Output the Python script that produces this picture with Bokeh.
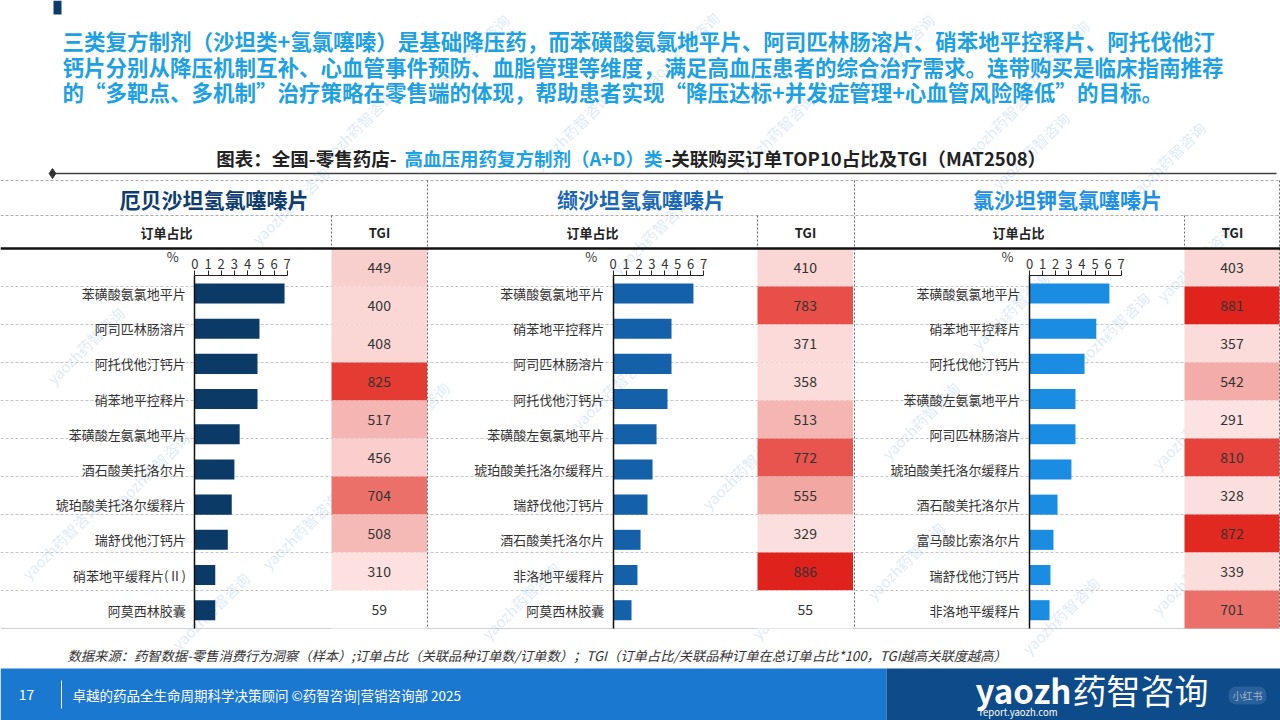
from bokeh.plotting import figure
from bokeh.models import Range1d, LinearAxis, FixedTicker, LinearColorMapper, ColumnDataSource
from bokeh.core.properties import value
from bokeh.transform import transform
from bokeh.embed import file_html
from bokeh.resources import INLINE

# ---------------- data ----------------
panel_titles = ["厄贝沙坦氢氯噻嗪片", "缬沙坦氢氯噻嗪片", "氯沙坦钾氢氯噻嗪片"]

p1_names = ["苯磺酸氨氯地平片", "阿司匹林肠溶片", "阿托伐他汀钙片", "硝苯地平控释片", "苯磺酸左氨氯地平片",
            "酒石酸美托洛尔片", "琥珀酸美托洛尔缓释片", "瑞舒伐他汀钙片", "硝苯地平缓释片(Ⅱ)", "阿莫西林胶囊"]
p1_share = [6.8, 4.9, 4.75, 4.75, 3.4, 3.0, 2.8, 2.5, 1.55, 1.55]
p1_tgi = [449, 400, 408, 825, 517, 456, 704, 508, 310, 59]

p2_names = ["苯磺酸氨氯地平片", "硝苯地平控释片", "阿司匹林肠溶片", "阿托伐他汀钙片", "苯磺酸左氨氯地平片",
            "琥珀酸美托洛尔缓释片", "瑞舒伐他汀钙片", "酒石酸美托洛尔片", "非洛地平缓释片", "阿莫西林胶囊"]
p2_share = [6.22, 4.52, 4.52, 4.21, 3.36, 3.05, 2.66, 2.12, 1.88, 1.42]
p2_tgi = [410, 783, 371, 358, 513, 772, 555, 329, 886, 55]

p3_names = ["苯磺酸氨氯地平片", "硝苯地平控释片", "阿托伐他汀钙片", "苯磺酸左氨氯地平片", "阿司匹林肠溶片",
            "琥珀酸美托洛尔缓释片", "酒石酸美托洛尔片", "富马酸比索洛尔片", "瑞舒伐他汀钙片", "非洛地平缓释片"]
p3_share = [6.1, 5.1, 4.2, 3.51, 3.51, 3.2, 2.14, 1.83, 1.6, 1.53]
p3_tgi = [403, 881, 357, 542, 291, 810, 328, 872, 339, 701]

axis_ticks = [0, 1, 2, 3, 4, 5, 6, 7]

para_lines = [
    "三类复方制剂（沙坦类+氢氯噻嗪）是基础降压药，而苯磺酸氨氯地平片、阿司匹林肠溶片、硝苯地平控释片、阿托伐他汀",
    "钙片分别从降压机制互补、心血管事件预防、血脂管理等维度，满足高血压患者的综合治疗需求。连带购买是临床指南推荐",
    "的“多靶点、多机制”治疗策略在零售端的体现，帮助患者实现“降压达标+并发症管理+心血管风险降低”的目标。",
]
title_a = "图表：全国-零售药店-"
title_b = "高血压用药复方制剂（A+D）类"
title_c = "-关联购买订单TOP10占比及TGI（MAT2508）"
source_note = "数据来源：药智数据-零售消费行为洞察（样本）;订单占比（关联品种订单数/订单数）；TGI（订单占比/关联品种订单在总订单占比*100，TGI越高关联度越高）"
footer_text = "卓越的药品全生命周期科学决策顾问 ©药智咨询|营销咨询部 2025"
page_no = "17"

panels = [
    (p1_names, p1_share, p1_tgi),
    (p2_names, p2_share, p2_tgi),
    (p3_names, p3_share, p3_tgi),
]

# ---------------- layout / style ----------------
W, H = 1280, 720
FONT = "Noto Sans CJK SC"
F = value(FONT)
PANEL_X1 = [427, 854, 1279]
ZERO_PX = [194.3, 612.7, 1029.0]
SEVEN_PX = [286.7, 703.0, 1120.7]
TGI_X0 = [331, 757, 1184]
TGI_X1 = [426.5, 852.5, 1279]
TITLE_CX = [213.5, 640.5, 1067]
HDR_CX = [166, 592, 1018]
TGI_CX = [379, 805, 1232]
BAR_COLORS = ["#0B3A67", "#1561A9", "#1A8CE1"]
TITLE_COLORS = ["#0E3C6E", "#1A67B5", "#1E91E6"]

BAR_TOP, BAR_STEP = 293.0, 35.19
ROW_TOP, ROW_H = 248.0, 38.0
AXIS_Y = 275.0
DATA_BOTTOM = 628.0

p = figure(width=W, height=H, x_range=Range1d(0, W), y_range=Range1d(H, 0),
           output_backend="svg", toolbar_location=None,
           x_axis_location=None, y_axis_location=None, min_border=0,
           outline_line_color=None, background_fill_color="white", border_fill_color="white")
p.grid.visible = False

p.extra_y_ranges = {
    "by": Range1d(start=(H - BAR_TOP) / BAR_STEP, end=(0 - BAR_TOP) / BAR_STEP),
    "ty": Range1d(start=(H - (ROW_TOP + ROW_H / 2)) / ROW_H, end=(0 - (ROW_TOP + ROW_H / 2)) / ROW_H),
}
xr = {}
for k in range(3):
    s = (SEVEN_PX[k] - ZERO_PX[k]) / 7.0
    xr[f"bx{k}"] = Range1d(start=-ZERO_PX[k] / s, end=(W - ZERO_PX[k]) / s)
p.extra_x_ranges = xr

# colour scale for TGI cells
anchors = [(55, (255, 255, 255)), (291, (252, 227, 226)), (410, (250, 214, 212)), (456, (249, 206, 204)),
           (510, (245, 184, 181)), (550, (243, 170, 166)), (700, (236, 113, 107)), (780, (231, 81, 75)),
           (820, (229, 63, 54)), (886, (224, 34, 28))]
lo, hi = anchors[0][0], anchors[-1][0]
palette = []
for i in range(256):
    v = lo + (hi - lo) * i / 255.0
    for (a, ca), (b, cb) in zip(anchors[:-1], anchors[1:]):
        if a <= v <= b:
            t = (v - a) / (b - a)
            rgb = [round(ca[j] + (cb[j] - ca[j]) * t) for j in range(3)]
            palette.append("#%02x%02x%02x" % tuple(rgb))
            break
mapper = LinearColorMapper(palette=palette, low=lo, high=hi)

# ---------------- watermarks ----------------
wm_pos = [(470, 52), (680, 50), (895, 52), (1050, 58), (355, 128), (571, 130), (775, 132), (1000, 122),
          (1166, 160), (85, 345), (150, 470), (290, 205), (300, 530), (650, 235), (610, 390), (740, 470),
          (790, 600), (1030, 150), (1010, 310), (1110, 330), (1195, 262), (1190, 430), (920, 420),
          (905, 560), (520, 600), (210, 610), (1060, 615), (410, 420), (1190, 575), (60, 540)]
p.text(x=[q[0] for q in wm_pos], y=[q[1] for q in wm_pos], text=["yaozh药智咨询"] * len(wm_pos),
       angle=0.78, text_font=F, text_font_size="15px", text_color="#5B9BD5", text_alpha=0.22,
       text_align="center", text_baseline="middle")

# ---------------- header ----------------
p.quad(left=[53], right=[61], top=[0], bottom=[14], fill_color="#0D3A6B", line_color=None)
for i, line in enumerate(para_lines):
    p.text(x=[62], y=[40 + i * 25.5], text=[line], text_font=F, text_font_style="bold",
           text_font_size="21.5px", text_color="#1DA1E2", text_baseline="middle")

p.text(x=[396], y=[157], text=[title_a], text_font=F, text_font_style="bold", text_font_size="18.5px",
       text_color="#222222", text_align="right", text_baseline="middle")
p.text(x=[404], y=[157], text=[title_b], text_font=F, text_font_style="bold", text_font_size="18.5px",
       text_color="#1DA1E2", text_align="left", text_baseline="middle")
p.text(x=[664], y=[157], text=[title_c], text_font=F, text_font_style="bold", text_font_size="18.5px",
       text_color="#222222", text_align="left", text_baseline="middle")
p.segment(x0=[52], y0=[173], x1=[1276], y1=[173], line_color="#404040", line_width=1.5)
p.scatter(x=[52], y=[173], marker="diamond", size=10, color="#333333")

# ---------------- table grid ----------------
row_lines = [ROW_TOP + ROW_H * k for k in range(1, 10)]
p.segment(x0=[0] * len(row_lines), y0=row_lines, x1=[W] * len(row_lines), y1=row_lines,
          line_color="#C4C4C4", line_width=1, line_dash="3 2")
p.segment(x0=[0, 0], y0=[180, 215], x1=[W, W], y1=[180, 215],
          line_color="#ABABAB", line_width=1, line_dash="3 2")
p.segment(x0=[0], y0=[DATA_BOTTOM], x1=[W], y1=[DATA_BOTTOM], line_color="#D0D0D0", line_width=1)

# ---------------- panels ----------------
for k, (names, share, tgi) in enumerate(panels):
    xname = f"bx{k}"
    tsrc = ColumnDataSource(dict(idx=list(range(len(tgi))), tgi=tgi, txt=[str(v) for v in tgi]))
    cx = (TGI_X0[k] + TGI_X1[k]) / 2
    p.rect(x=cx, y="idx", width=TGI_X1[k] - TGI_X0[k], height=1, source=tsrc, y_range_name="ty",
           fill_color=transform("tgi", mapper), line_color=None)
    p.text(x=cx, y="idx", text="txt", source=tsrc, y_range_name="ty", text_font=F,
           text_font_size="14px", text_color="#333333", text_align="center", text_baseline="middle")

    bsrc = ColumnDataSource(dict(idx=list(range(len(share))), val=share))
    p.hbar(y="idx", left=0, right="val", height=0.57, source=bsrc, x_range_name=xname,
           y_range_name="by", fill_color=BAR_COLORS[k], line_color=None)

    ax = LinearAxis(x_range_name=xname, fixed_location=AXIS_Y, ticker=FixedTicker(ticks=axis_ticks),
                    bounds=(0, 7))
    ax.major_tick_out = 5
    ax.major_tick_in = 0
    ax.minor_tick_out = 0
    ax.minor_tick_in = 0
    ax.major_label_standoff = 2
    ax.axis_line_color = "#222222"
    ax.major_tick_line_color = "#222222"
    ax.major_label_text_font = FONT
    ax.major_label_text_font_size = "13px"
    ax.major_label_text_color = "#333333"
    p.add_layout(ax, "above")

    la = LinearAxis(x_range_name=xname, y_range_name="by", fixed_location=0,
                    ticker=FixedTicker(ticks=list(range(len(names)))),
                    major_label_overrides={i: n for i, n in enumerate(names)},
                    bounds=((AXIS_Y - BAR_TOP) / BAR_STEP, (DATA_BOTTOM - BAR_TOP) / BAR_STEP))
    la.major_tick_out = 0
    la.major_tick_in = 0
    la.minor_tick_out = 0
    la.minor_tick_in = 0
    la.major_label_standoff = 9
    la.axis_line_color = "#111111"
    la.axis_line_width = 1.5
    la.major_label_text_font = FONT
    la.major_label_text_font_size = "13px"
    la.major_label_text_color = "#333333"
    p.add_layout(la, "left")

    p.text(x=[0], y=[256], text=["%"], x_range_name=xname, x_offset=-22, text_font=F,
           text_font_size="13px", text_color="#333333", text_align="center", text_baseline="middle")

    p.text(x=[TITLE_CX[k]], y=[198], text=[panel_titles[k]], text_font=F, text_font_style="bold",
           text_font_size="21px", text_color=TITLE_COLORS[k], text_align="center", text_baseline="middle")
    p.text(x=[HDR_CX[k]], y=[232], text=["订单占比"], text_font=F, text_font_style="bold",
           text_font_size="13px", text_color="#222222", text_align="center", text_baseline="middle")
    p.text(x=[TGI_CX[k]], y=[232], text=["TGI"], text_font=F, text_font_style="bold",
           text_font_size="13px", text_color="#222222", text_align="center", text_baseline="middle")

p.segment(x0=PANEL_X1, y0=[180] * 3, x1=PANEL_X1, y1=[DATA_BOTTOM] * 3,
          line_color="#666666", line_width=1, line_dash="2 2")
p.segment(x0=TGI_X0, y0=[215] * 3, x1=TGI_X0, y1=[ROW_TOP] * 3,
          line_color="#666666", line_width=1, line_dash="2 2")
p.segment(x0=[0], y0=[ROW_TOP], x1=[W], y1=[ROW_TOP], line_color="#111111", line_width=2.5)

# ---------------- source & footer ----------------
p.text(x=[67], y=[655], text=[source_note], text_font=F, text_font_style="italic", text_font_size="13.3px",
       text_color="#333333", text_baseline="middle")

p.quad(left=[0], right=[886], top=[668], bottom=[720], fill_color="#1A78D1", line_color=None)
p.quad(left=[886], right=[W], top=[668], bottom=[720], fill_color="#0D4B8B", line_color=None)
p.text(x=[26], y=[694], text=[page_no], text_font=F, text_font_size="14px", text_color="white",
       text_align="center", text_baseline="middle")
p.segment(x0=[61], y0=[680], x1=[61], y1=[708], line_color="white", line_width=1)
p.text(x=[72], y=[694], text=[footer_text], text_font=F, text_font_size="13.5px", text_color="white",
       text_baseline="middle")
p.text(x=[975], y=[689], text=["yaozh"], text_font=F, text_font_style="bold", text_font_size="33px",
       text_color="white", text_baseline="middle")
p.text(x=[1072], y=[689], text=["药智咨询"], text_font=F, text_font_size="34px", text_color="white",
       text_baseline="middle")
p.text(x=[979], y=[711], text=["report.yaozh.com"], text_font=F, text_font_size="9.5px",
       text_color="white", text_baseline="middle")
p.quad(left=[1228], right=[1266], top=[686], bottom=[704], fill_color="#FFFFFF", fill_alpha=0.12,
       line_color=None, border_radius=8)
p.text(x=[1247], y=[695], text=["小红书"], text_font=F, text_font_size="10px", text_color="#9FB5CF",
       text_align="center", text_baseline="middle")

open("out.html", "w").write(file_html(p, INLINE))
